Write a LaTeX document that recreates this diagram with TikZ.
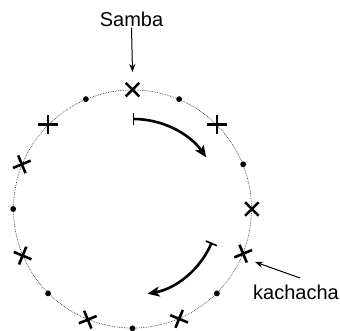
\documentclass[tikz,border=0pt]{standalone}
\usepackage{fontspec}
\setmainfont{Liberation Sans}
\usetikzlibrary{arrows.meta}
\tikzset{
  ring/.style={circle, draw=black!75, densely dotted, line width=0.7pt, minimum size=238pt, inner sep=0pt},
  beat/.style={line width=2.6pt, line cap=butt},
  dotmark/.style={fill=black},
  label/.style={font=\fontsize{20}{22}\selectfont, inner sep=1pt},
  pointer/.style={line width=1pt, -{Stealth[length=8pt,width=6pt]}},
  turn/.style={line width=2.6pt, {Bar[width=12pt,line width=1.6pt]}-{Stealth[length=12pt,width=10pt,inset=3pt]}}
}
\begin{document}
\begin{tikzpicture}[x=1pt,y=1pt]
\useasboundingbox (0,0) rectangle (340,330);
\coordinate (c) at (132.5,121);
\node[ring] (ring) at (c) {};
% crosses (x relative to the tangent)
\foreach \t in {0,45,90,112.5,157.5,202.5,247.5,292.5,315}{
  \pgfmathsetmacro{\ph}{90-\t}
  \draw[beat, shift={(ring.\ph)}, rotate=\ph] (-6.8,-6.8) -- (6.8,6.8) (-6.8,6.8) -- (6.8,-6.8);
}
% dots
\foreach \t in {22.5,67.5,135,180,225,270,337.5}{
  \pgfmathsetmacro{\ph}{90-\t}
  \fill[dotmark] (ring.\ph) circle (2.9);
}
% turning arrows
\draw[turn] (c) ++(90:90) arc[start angle=90, end angle=35, radius=90];
\draw[turn] (c) ++(-23:86) arc[start angle=-23, end angle=-80, radius=86];
% labels
\node[label] (samba) at (131.5,311) {Samba};
\coordinate (sambatip) at (132.5,258);
\draw[pointer] (samba.south) -- (sambatip);
\node[label] (kach) at (296,38) {kachacha};
\coordinate (kstart) at (300,52);
\coordinate (ktip) at (255,68);
\draw[pointer] (kstart) -- (ktip);
\end{tikzpicture}
\end{document}
